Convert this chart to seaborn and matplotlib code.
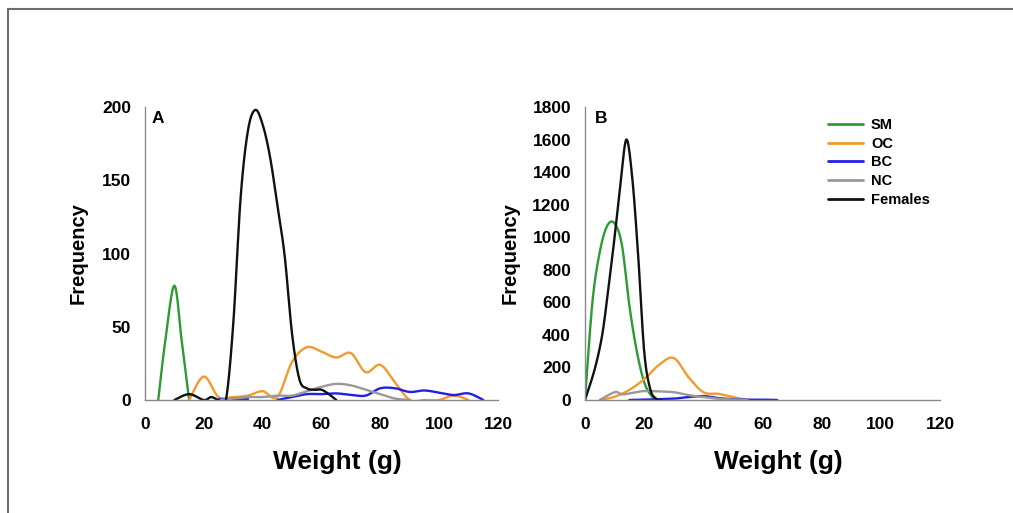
import numpy as np
import pandas as pd
import matplotlib
matplotlib.use("Agg")
import matplotlib.pyplot as plt
from matplotlib.lines import Line2D
import seaborn as sns

# ---------------- data ----------------
groups = ["SM", "OC", "BC", "NC", "Females"]
colors = {"SM": "#2e9a35", "OC": "#f39a2e", "BC": "#2020e6", "NC": "#999999", "Females": "#111111"}

# Panel A
a_sm_x = [4.5, 7, 10, 12.5, 15]
a_sm_y = [0, 42, 78, 40, 0]
a_oc_x = [15, 20, 25, 30, 35, 40, 45, 50, 55, 60, 65, 70, 75, 80, 85, 90, 95, 100, 105, 110]
a_oc_y = [0, 16, 2, 2, 3, 6, 2, 26, 36, 33, 29, 32, 19, 24, 12, 0, 0, 0, 3, 0]
a_bc_x = [25, 30, 35, None, 45, 50, 55, 60, 65, 70, 75, 80, 85, 90, 95, 100, 105, 110, 115]
a_bc_y = [0.5, 0.5, 0.5, None, 0, 2, 4, 4, 4.5, 3.5, 3, 8, 8, 5.5, 6.5, 5, 3.4, 4.5, 0]
a_nc_x = [25, 30, 35, 40, 45, 50, 55, 60, 65, 70, 75, 80, 85, 90]
a_nc_y = [0, 1, 2, 2, 3, 3, 6, 9, 11, 10, 7, 4, 1, 0]
a_f_x = [10, 15, 20, 22.5, 25, 27.5, 30, 32.5, 35, 37.5, 40, 42.5, 45, 47.5, 50, 52.5, 55, 57.5, 60, 62.5, 65]
a_f_y = [0, 4, 0, 2, 0, 0, 52, 138, 184, 198, 188, 166, 133, 98, 45, 14, 8, 7, 7, 4, 0]

# Panel B
b_sm_x = [0, 2.5, 5, 7.5, 10, 12.5, 15, 17.5, 20, 22.5, 25]
b_sm_y = [0, 600, 910, 1070, 1085, 950, 580, 300, 110, 25, 0]
b_oc_x = [5, 10, 15, 20, 25, 30, 35, 40, 45, 50, 55]
b_oc_y = [0, 20, 62, 128, 215, 258, 140, 48, 38, 18, 0]
b_bc_x = [15, 20, 25, 30, 35, 40, 45, 50, 55, 60, 65]
b_bc_y = [0, 2, 5, 8, 18, 24, 12, 5, 2, 2, 0]
b_nc_x = [5, 10, 12.5, 15, 20, 25, 30, 35, 40, 45, 50, 55]
b_nc_y = [0, 48, 35, 40, 55, 52, 48, 30, 18, 8, 3, 0]
b_f_x = [0, 2, 4, 6, 8, 10, 12, 14, 16, 18, 20, 22, 24, 26]
b_f_y = [0, 110, 240, 420, 700, 1000, 1330, 1600, 1360, 880, 300, 70, 8, 0]

x_ticks = [0, 20, 40, 60, 80, 100, 120]
a_y_ticks = [0, 50, 100, 150, 200]
b_y_ticks = [0, 200, 400, 600, 800, 1000, 1200, 1400, 1600, 1800]
x_label = "Weight (g)"
y_label = "Frequency"

panel_a = {"SM": (a_sm_x, a_sm_y), "OC": (a_oc_x, a_oc_y), "BC": (a_bc_x, a_bc_y),
           "NC": (a_nc_x, a_nc_y), "Females": (a_f_x, a_f_y)}
panel_b = {"SM": (b_sm_x, b_sm_y), "OC": (b_oc_x, b_oc_y), "BC": (b_bc_x, b_bc_y),
           "NC": (b_nc_x, b_nc_y), "Females": (b_f_x, b_f_y)}


# ---------------- smoothing (line style like Excel "smoothed line") ----------------
def catmull_rom(x, y, n=24):
    pts = np.column_stack([x, y]).astype(float)
    if len(pts) < 3:
        return pts
    P = np.vstack([pts[0], pts, pts[-1]])
    out = []
    t = np.linspace(0, 1, n, endpoint=False)[:, None]
    for i in range(1, len(P) - 2):
        p0, p1, p2, p3 = P[i - 1], P[i], P[i + 1], P[i + 2]
        seg = 0.5 * ((2 * p1) + (-p0 + p2) * t + (2 * p0 - 5 * p1 + 4 * p2 - p3) * t ** 2
                     + (-p0 + 3 * p1 - 3 * p2 + p3) * t ** 3)
        out.append(seg)
    out.append(P[-2][None])
    return np.vstack(out)


def build_frame(panel):
    rows = []
    for g in groups:
        xs, ys = panel[g]
        xs = np.array([np.nan if v is None else v for v in xs], float)
        ys = np.array([np.nan if v is None else v for v in ys], float)
        ok = np.isfinite(xs) & np.isfinite(ys)
        seg_id = np.cumsum(~ok)
        for s in np.unique(seg_id[ok]):
            m = ok & (seg_id == s)
            sm = catmull_rom(xs[m], ys[m])
            for px, py in sm:
                rows.append((px, py, g, f"{g}_{s}"))
    return pd.DataFrame(rows, columns=["Weight", "Frequency", "Group", "Unit"])


df_a = build_frame(panel_a)
df_b = build_frame(panel_b)

# ---------------- figure ----------------
sns.set_theme(style="white")
plt.rcParams["font.family"] = ["Liberation Sans", "DejaVu Sans"]
plt.rcParams["font.weight"] = "bold"
plt.rcParams["text.color"] = "black"
plt.rcParams["axes.labelcolor"] = "black"
plt.rcParams["xtick.color"] = "black"
plt.rcParams["ytick.color"] = "black"

W, H = 1013, 513
fig = plt.figure(figsize=(W / 100, H / 100), dpi=100)
fig.patch.set_facecolor("white")

ax_a = fig.add_axes([145 / W, 1 - 400 / H, 353 / W, 293 / H])
ax_b = fig.add_axes([585 / W, 1 - 400 / H, 355 / W, 293 / H])

spine_col = "#8a8a8a"
for ax, df, yt, letter, show_leg in [(ax_a, df_a, a_y_ticks, "A", False),
                                    (ax_b, df_b, b_y_ticks, "B", True)]:
    sns.lineplot(data=df, x="Weight", y="Frequency", hue="Group", hue_order=groups,
                 units="Unit", estimator=None, sort=False, palette=colors,
                 linewidth=1.7, ax=ax, legend=show_leg)
    ax.set_xlim(0, 120)
    ax.set_ylim(0, yt[-1])
    ax.set_xticks(x_ticks)
    ax.set_yticks(yt)
    ax.set_xticklabels([str(v) for v in x_ticks], fontsize=12.5, fontweight="bold")
    ax.set_yticklabels([str(v) for v in yt], fontsize=12.5, fontweight="bold")
    for s in ["top", "right"]:
        ax.spines[s].set_visible(False)
    for s in ["left", "bottom"]:
        ax.spines[s].set_color(spine_col)
        ax.spines[s].set_linewidth(1.0)
    ax.tick_params(axis="both", direction="out", length=4, width=1.0, color=spine_col,
                   labelcolor="black")
    ax.tick_params(axis="x", pad=8)
    ax.tick_params(axis="y", pad=6)
    ax.set_xlabel(x_label, fontsize=19, fontweight="bold")
    ax.set_ylabel(y_label, fontsize=14.5, fontweight="bold")
    ax.xaxis.label.set_va("center")
    ax.yaxis.label.set_va("center")
    ax.text(0.02 if letter == "A" else 0.028, 0.96, letter, transform=ax.transAxes,
            fontsize=12.5, fontweight="bold", ha="left", va="center", color="black")
    ax.grid(False)
    ax.set_facecolor("white")

ax_a.xaxis.set_label_coords((337 - 145) / 353, (400 - 462) / 293)
ax_b.xaxis.set_label_coords((778 - 585) / 355, (400 - 462) / 293)
ax_a.yaxis.set_label_coords((78 - 145) / 353, 0.5)
ax_b.yaxis.set_label_coords((510 - 585) / 355, 0.5)

handles, labels = ax_b.get_legend_handles_labels()
for h in handles:
    h.set_linewidth(2.0)
ax_b.legend(handles, labels, loc="upper left", bbox_to_anchor=(828 / W, 1 - 118 / H),
            bbox_transform=fig.transFigure, frameon=False,
            handlelength=2.4, handletextpad=0.55, labelspacing=0.32,
            borderpad=0, borderaxespad=0, prop={"weight": "bold", "size": 10.5})

# page border (top and left edges as in the reference)
fig.add_artist(Line2D([8 / W, 8 / W], [0, 1 - 9 / H], transform=fig.transFigure,
                      color="#6e6e6e", lw=1.5))
fig.add_artist(Line2D([8 / W, 1], [1 - 9 / H, 1 - 9 / H], transform=fig.transFigure,
                      color="#6e6e6e", lw=1.5))

fig.savefig("out.png", dpi=100, facecolor="white")
